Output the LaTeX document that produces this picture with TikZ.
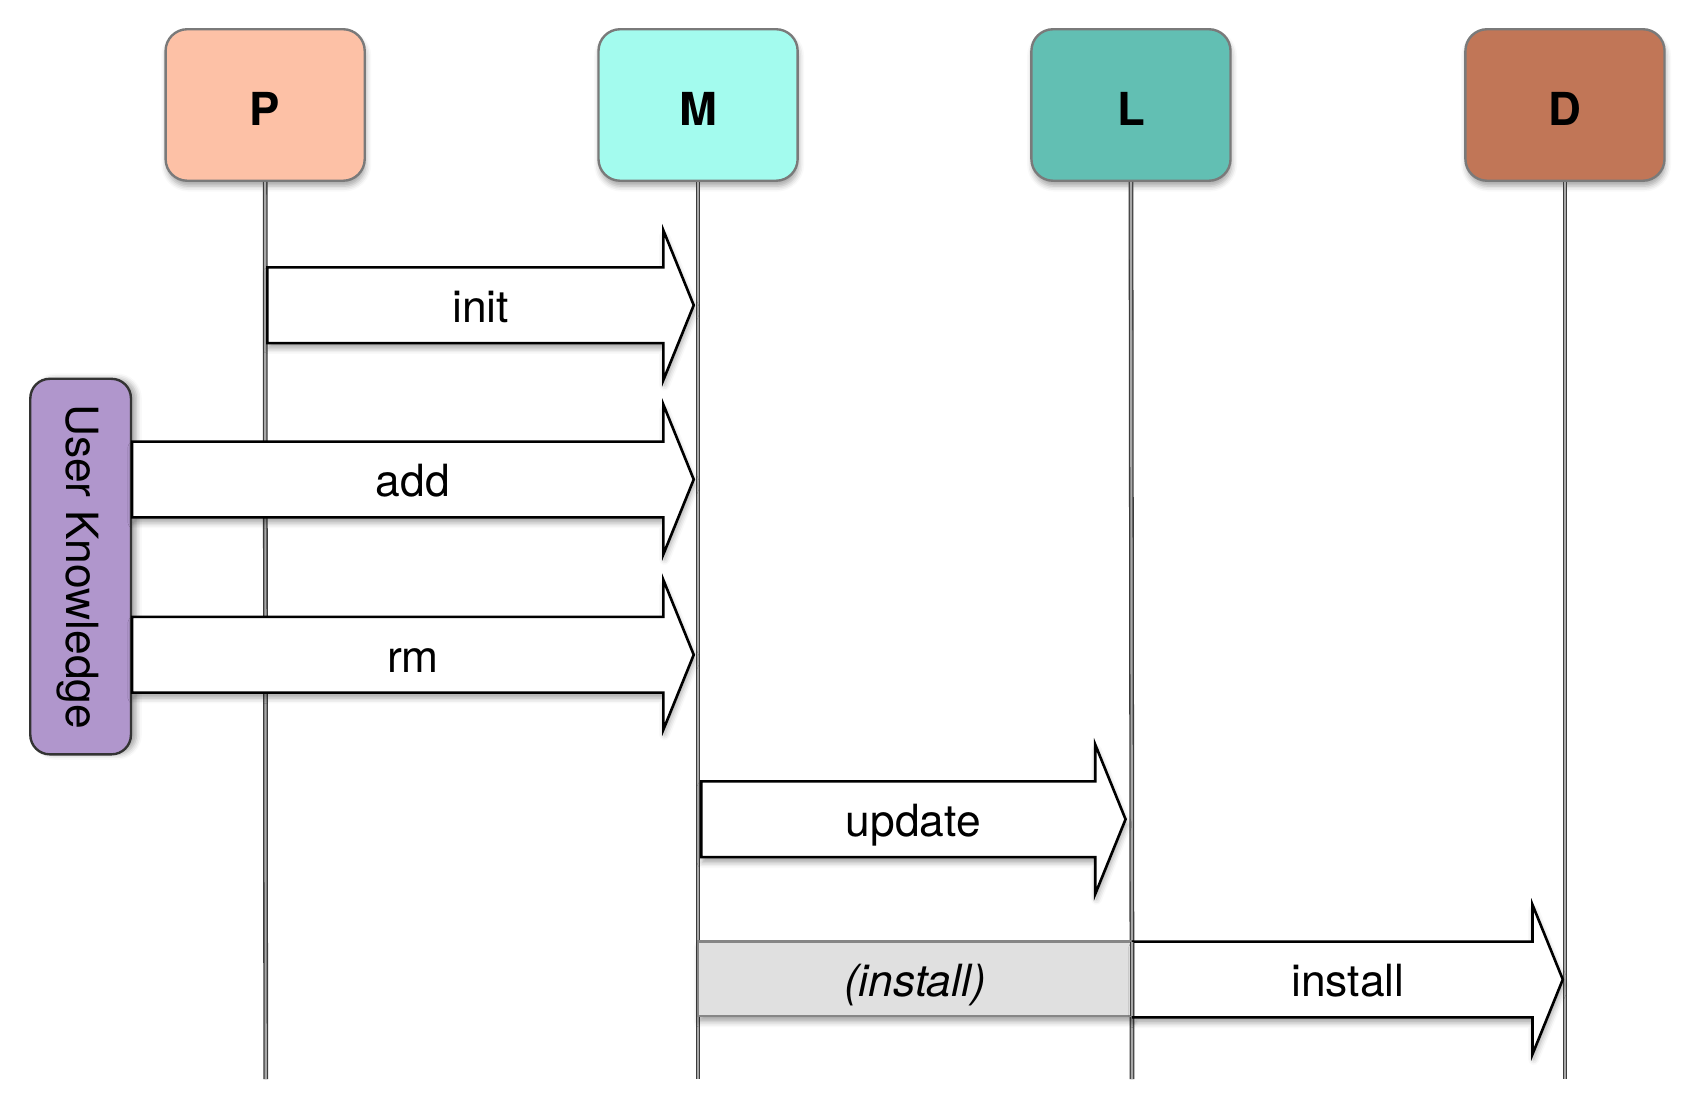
\documentclass[tikz,border=0pt]{standalone}
\usepackage{fontspec}
\setmainfont{TeX Gyre Heros}
\usetikzlibrary{calc,shadows.blur}
\definecolor{pcol}{HTML}{FDC1A6}
\definecolor{mcol}{HTML}{A3FBEE}
\definecolor{lcol}{HTML}{62BFB3}
\definecolor{dcol}{HTML}{C17657}
\definecolor{ukcol}{HTML}{B096CC}
\definecolor{boxborder}{HTML}{7A7A7A}
\definecolor{lifedark}{HTML}{3C3C3C}
\definecolor{lifelight}{HTML}{A8A8A8}
\definecolor{ghostfill}{HTML}{E0E0E0}
\definecolor{ghostline}{HTML}{868686}
\newcommand\blockarr[3]{%
  \draw[arrowbody] ($(#1)+(0,-35)$) -- ($(#2)+(-28,-35)$) -- ($(#2)+(-28,-69)$) -- (#2)
     -- ($(#2)+(-28,69)$) -- ($(#2)+(-28,35)$) -- ($(#1)+(0,35)$) -- cycle;
  \node[msglabel] (#3lbl) at ($(#1)!0.5!(#2)$) {#3};}
\begin{document}
\begin{tikzpicture}[x=0.5pt,y=-0.5pt,
  softshadow/.style={blur shadow={shadow xshift=0.5pt,shadow yshift=-2.5pt,shadow blur radius=2.5pt,shadow opacity=35}},
  actor/.style={rectangle,rounded corners=10pt,draw=boxborder,line width=1.1pt,
    minimum width=92pt,minimum height=70pt,inner sep=0pt,softshadow,
    text height=19pt,text depth=0pt,
    font=\fontsize{21}{25}\selectfont\bfseries},
  lifeouter/.style={draw=lifedark,line width=2.2pt},
  lifeinner/.style={draw=lifelight,line width=1.0pt},
  arrowbody/.style={draw=black,fill=white,line width=1.2pt,line join=miter,softshadow},
  msglabel/.style={inner sep=0pt,text height=18.4pt,text depth=2.4pt,font=\fontsize{20.5}{24}\selectfont},
]
\useasboundingbox (0,0) rectangle (1568,1028.4);
% actors
\node[actor,fill=pcol] (P) at (245,97) {P};
\node[actor,fill=mcol] (M) at (645,97) {M};
\node[actor,fill=lcol] (L) at (1045,97) {L};
\node[actor,fill=dcol] (D) at (1446,97) {D};
% lifeline ends
\coordinate (Pend) at (245.5,997);
\coordinate (Mend) at (645,997);
\coordinate (Lend) at (1046,997);
\coordinate (Dend) at (1446,997);
\foreach \a in {P,M,L,D}{
  \draw[lifeouter] (\a.south) -- (\a end);
  \draw[lifeinner] (\a.south) -- (\a end);
}
% user knowledge
\node[rectangle,rounded corners=9pt,draw=black!80,line width=1.1pt,fill=ukcol,
  minimum width=173.5pt,minimum height=46.5pt,inner sep=0pt,rotate=-90,
  blur shadow={shadow xshift=2.5pt,shadow yshift=0pt,shadow blur radius=2.5pt,shadow opacity=35},
  text height=16pt,text depth=3pt,
  font=\fontsize{20.5}{24}\selectfont] (UK) at (74.5,523.5) {User Knowledge};
% message anchors
\coordinate (initS) at (247,282);  \coordinate (initT) at (641,282);
\coordinate (addS) at (UK.north |- 0,443); \coordinate (addT) at (641,443);
\coordinate (rmS) at (UK.north |- 0,605);  \coordinate (rmT) at (641,605);
\coordinate (updS) at (648,757);  \coordinate (updT) at (1040,757);
\coordinate (insS) at (1047,905); \coordinate (insT) at (1444,905);
\blockarr{initS}{initT}{init}
\blockarr{addS}{addT}{add}
\blockarr{rmS}{rmT}{rm}
\blockarr{updS}{updT}{update}
% ghost install
\node[rectangle,draw=ghostline,fill=ghostfill,line width=1.1pt,minimum width=200.5pt,
  minimum height=34.5pt,inner sep=0pt,softshadow,text height=18.4pt,text depth=2.4pt,
  font=\fontsize{20.5}{24}\selectfont\itshape]
  (ghost) at (845.5,904.5) {(install)};
\blockarr{insS}{insT}{install}
\draw[lifeouter] (1046,939) -- (1046,870);
\draw[lifeinner] (1046,939) -- (1046,870);
\end{tikzpicture}
\end{document}
